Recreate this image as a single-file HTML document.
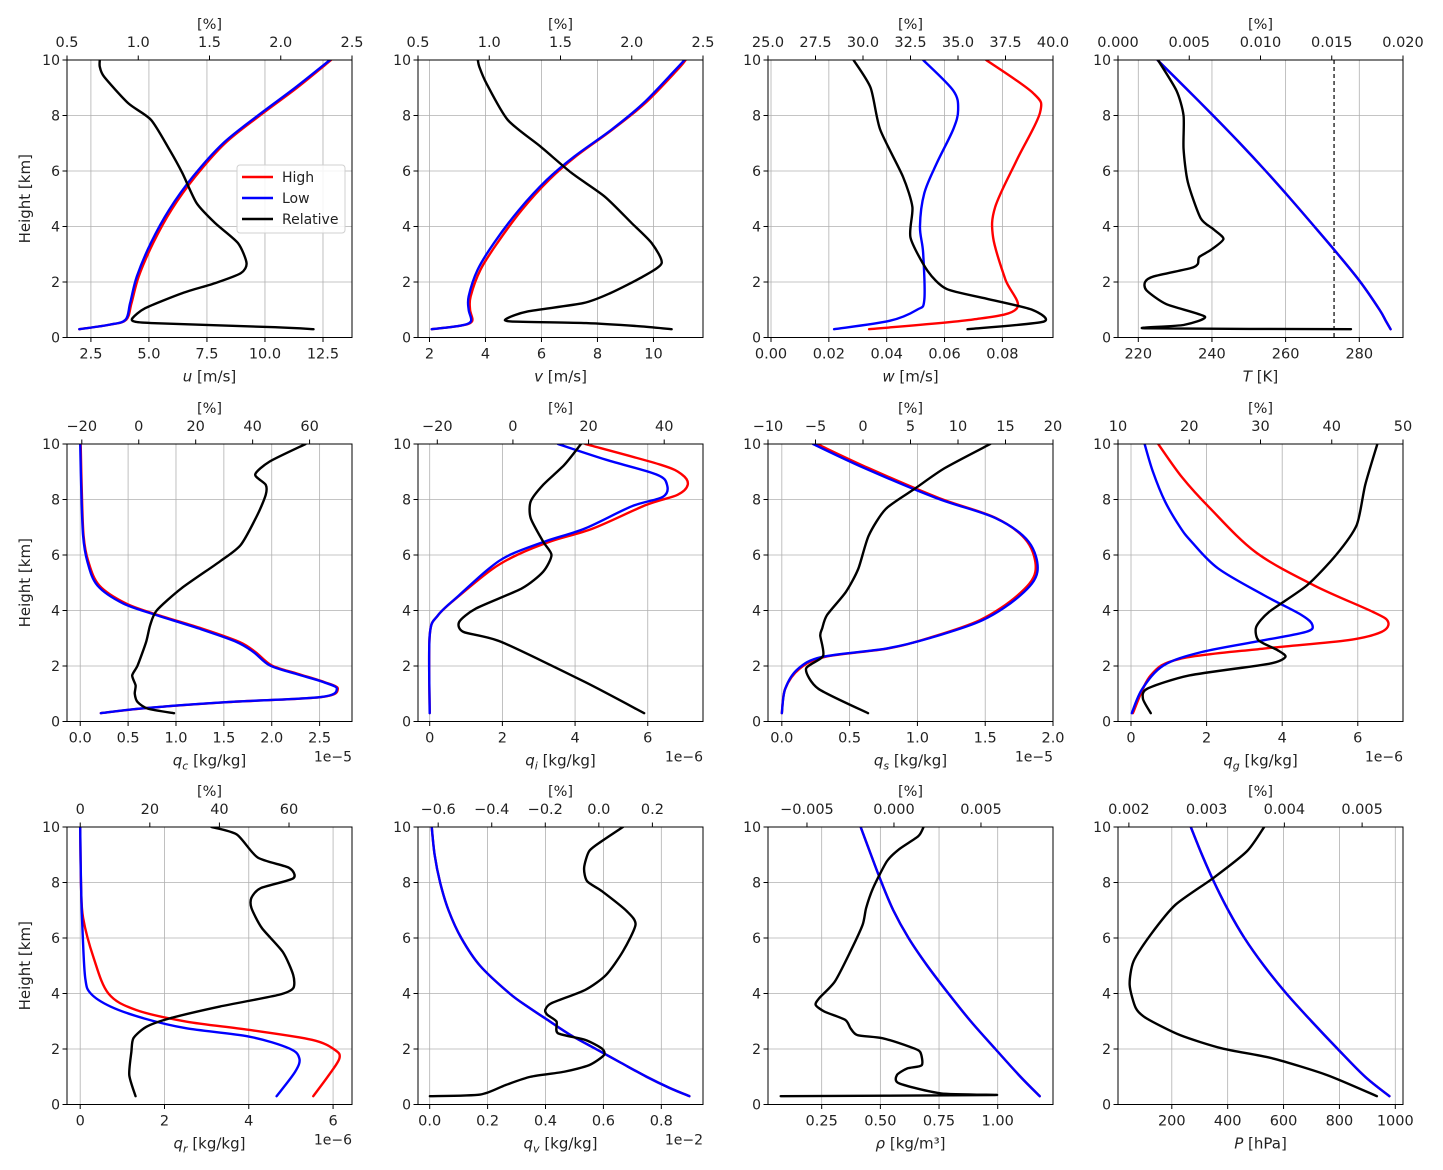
<!DOCTYPE html>
<html><head><meta charset="utf-8">
<style>
html,body{margin:0;padding:0;background:#fff;}
svg{display:block;font-family:"DejaVu Sans","Liberation Sans",sans-serif;}
</style></head>
<body>
<svg id="fig" width="1443" height="1170" viewBox="0 0 1443 1170" xmlns="http://www.w3.org/2000/svg"></svg>
<script>
// ---------- data (km heights, values) ----------
const uHighH=[0.3,0.46,0.64,1.24,2.2,3.4,4.6,5.8,7.0,8.0,9.0,10];
const uHigh=[2.0,3.3,4.02,4.25,4.56,5.18,5.97,7.0,8.28,9.78,11.38,12.85];
const uLowH=[0.3,0.46,0.64,1.24,2.2,3.4,4.6,5.8,7.0,8.0,9.0,10];
const uLow=[2.0,3.29,3.99,4.19,4.48,5.08,5.87,6.9,8.2,9.7,11.3,12.8];
const uRelH=[0.3,0.37,0.52,0.58,0.7,1.06,1.6,1.96,2.32,2.68,3.4,4.12,4.84,5.92,6.76,7.84,8.44,9.4,9.76,10];
const uRel=[2.23,1.96,1.09,0.97,0.96,1.05,1.31,1.54,1.72,1.76,1.7,1.54,1.41,1.31,1.22,1.09,0.93,0.76,0.73,0.73];

const vHighH=[0.3,0.42,0.58,1.0,1.48,2.44,3.4,4.6,5.68,6.52,7.48,8.44,9.64,10];
const vHigh=[2.08,3.08,3.52,3.45,3.47,3.82,4.42,5.3,6.27,7.22,8.52,9.7,10.85,11.15];
const vLowH=[0.3,0.42,0.58,1.0,1.48,2.44,3.4,4.6,5.68,6.52,7.48,8.44,9.64,10];
const vLow=[2.08,3.07,3.48,3.4,3.4,3.72,4.3,5.2,6.19,7.17,8.49,9.64,10.78,11.11];
const vRelH=[0.3,0.4,0.52,0.58,0.7,0.94,1.24,1.6,2.2,2.68,3.4,4.12,5.08,5.92,6.88,7.84,9.16,9.76,10];
const vRel=[2.28,2.07,1.68,1.15,1.13,1.27,1.66,1.85,2.08,2.21,2.14,2.0,1.81,1.58,1.36,1.13,0.98,0.93,0.92];

const wHighH=[0.3,0.65,1.05,2.1,3.6,4.7,6.4,8.1,8.8,10];
const wHigh=[0.0339,0.07,0.085,0.081,0.0768,0.0775,0.085,0.093,0.0907,0.0744];
const wLowH=[0.3,0.6,1,1.35,3.05,4,5.2,6.3,7.5,8.2,8.9,10];
const wLow=[0.0218,0.041,0.0505,0.053,0.0526,0.0515,0.053,0.0574,0.063,0.0647,0.063,0.0526];
const wRelH=[0.3,0.57,1,1.4,1.75,2.4,3.6,4.7,5.8,7.5,9.0,10];
const wRel=[35.5,39.5,38.9,36.5,34.4,33.4,32.5,32.6,32.1,30.9,30.4,29.5];

const tHighH=[0.3,0.6,1,2,3,4,5,6,7,8,9,10];
const tHigh=[288.5,287.2,285.5,280.3,274.2,267.8,261.3,254.6,247.6,240.3,232.8,225.2];
const tLowH=[0.3,0.6,1,2,3,4,5,6,7,8,9,10];
const tLow=[288.5,287.2,285.5,280.3,274.2,267.8,261.3,254.6,247.6,240.3,232.8,225.2];
const tRelH=[0.3,0.33,0.45,0.75,1.2,1.7,2,2.2,2.5,2.65,2.9,3.15,3.55,3.9,4.3,5.6,6.8,8,8.9,10];
const tRel=[0.01635,0.002,0.0046,0.0061,0.0034,0.002,0.0019,0.0025,0.0051,0.0056,0.0057,0.0065,0.0074,0.0067,0.0058,0.0049,0.0046,0.0046,0.0041,0.0028];
const freezingK=[273.15];

const qcHighH=[0.3,0.48,0.7,0.88,1.18,1.42,1.72,2.02,2.5,2.87,3.35,3.83,4.25,4.9,5.76,6.7,8.5,10];
const qcHigh=[0.215,0.68,1.55,2.52,2.69,2.55,2.27,2.0,1.83,1.66,1.27,0.82,0.48,0.2,0.085,0.035,0.015,0.005];
const qcLowH=[0.3,0.48,0.7,0.88,1.18,1.42,1.72,2.02,2.5,2.87,3.35,3.83,4.25,4.9,5.76,6.7,8.5,10];
const qcLow=[0.215,0.67,1.54,2.51,2.68,2.54,2.25,1.98,1.81,1.63,1.24,0.8,0.45,0.18,0.075,0.03,0.01,0.0];
const qcRelH=[0.3,0.46,0.7,1,1.3,1.66,2.02,2.87,3.47,4.0,4.8,5.76,6.36,7.45,8.17,8.53,8.9,9.37,10];
const qcRel=[12.4,3.3,-0.4,-1.4,-1.1,-2.3,-0.4,2.6,4,6.3,15,28.4,35.8,41.7,44.6,44.6,40.9,46,58.6];

const qiHighH=[0.3,3.1,3.83,4.55,5.5,6.0,6.5,6.96,7.8,8.17,8.53,8.9,9.25,10];
const qiHigh=[0,0,0.23,0.83,1.73,2.4,3.35,4.5,5.95,6.82,7.1,6.94,6.36,4.28];
const qiLowH=[0.3,3.1,3.83,4.55,5.5,6.0,6.5,6.96,7.75,8.1,8.53,8.9,9.43,10];
const qiLow=[0,0,0.23,0.81,1.62,2.2,3.2,4.28,5.55,6.42,6.53,6.24,4.86,3.53];
const qiRelH=[0.3,1.42,2.87,3.23,3.59,4.07,4.8,5.4,6,6.48,7.33,7.93,8.53,9.25,10];
const qiRel=[34.7,19.1,-3.1,-13.1,-14.2,-9.8,2.4,8,10.2,8,4.7,4.7,8,13.6,18];

const qsHighH=[0.3,1.18,1.9,2.33,2.63,2.99,3.65,4.55,5.4,6.48,7.33,8.05,9.13,10];
const qsHigh=[0,0.025,0.13,0.32,0.78,1.07,1.46,1.74,1.87,1.81,1.58,1.16,0.64,0.26];
const qsLowH=[0.3,1.18,1.9,2.33,2.63,2.99,3.65,4.55,5.4,6.48,7.33,8.05,9.13,10];
const qsLow=[0,0.025,0.12,0.3,0.77,1.08,1.48,1.76,1.885,1.82,1.575,1.14,0.61,0.23];
const qsRelH=[0.3,1.18,1.9,2.36,3.1,3.35,3.83,4.67,5.5,6.7,7.66,8.4,9.13,10];
const qsRel=[0.53,-4.7,-6.0,-4.2,-4.5,-4.3,-3.8,-1.8,-0.5,0.6,2.4,5.5,8.6,13.4];

const qgHighH=[0.3,1.66,2.26,2.63,2.93,3.23,3.6,3.95,4.9,6.1,7.7,8.8,10];
const qgHigh=[0.05,0.52,1.3,3.52,5.74,6.63,6.8,6.4,4.85,3.3,2.08,1.35,0.72];
const qgLowH=[0.3,1.18,2.02,2.5,2.93,3.23,3.47,3.83,4.55,5.52,6.48,7.0,7.93,9,10];
const qgLow=[0.02,0.3,0.86,1.86,3.52,4.63,4.8,4.52,3.52,2.3,1.6,1.3,0.9,0.58,0.36];
const qgRelH=[0.3,0.82,1.18,1.66,2.08,2.33,2.57,2.93,3.41,3.95,4.9,6,7.08,8.53,10];
const qgRel=[14.6,13.5,14.1,20,31.2,33.5,32.4,29.7,29.4,31.2,36.5,40.6,43.5,44.7,46.4];

const qrHighH=[0.3,1.06,1.66,1.96,2.33,2.69,2.99,3.41,4.0,5.28,6.72,7.9,10];
const qrHigh=[5.53,5.9,6.15,6.05,5.5,4.0,2.51,1.32,0.67,0.32,0.07,0.02,0];
const qrLowH=[0.3,1.18,1.66,2.02,2.45,2.75,3.1,3.53,4.0,4.55,6.1,7.9,10];
const qrLow=[4.66,5.1,5.2,4.96,4.0,2.51,1.52,0.72,0.25,0.12,0.06,0.02,0];
const qrRelH=[0.3,1.06,1.9,2.39,2.8,3.1,3.53,3.95,4.19,4.67,5.5,6.36,7.08,7.45,7.8,8.15,8.53,8.9,9.73,10];
const qrRel=[15.9,14.1,14.7,15.3,19,25.6,40.1,57,61.2,61.2,58.2,52.2,49.2,49.2,51.9,61.2,60,51,45,37.7];

const qvHighH=[0.3,0.6,1,1.5,2,2.5,3,3.5,4,5,6,7,8,9,10];
const qvHigh=[0.897,0.828,0.749,0.661,0.574,0.487,0.414,0.342,0.276,0.174,0.109,0.065,0.036,0.017,0.007];
const qvLowH=[0.3,0.6,1,1.5,2,2.5,3,3.5,4,5,6,7,8,9,10];
const qvLow=[0.897,0.828,0.749,0.661,0.574,0.487,0.414,0.342,0.276,0.174,0.109,0.065,0.036,0.017,0.007];
const qvRelH=[0.3,0.36,0.7,1,1.18,1.42,1.78,2.02,2.33,2.57,2.99,3.23,3.41,3.65,4.13,4.67,5.52,6.48,6.96,7.69,8.05,8.53,9.13,9.49,10];
const qvRel=[-0.631,-0.443,-0.349,-0.255,-0.13,-0.036,0.019,0.011,-0.051,-0.153,-0.158,-0.192,-0.2,-0.177,-0.051,0.027,0.09,0.137,0.105,0.011,-0.044,-0.055,-0.036,0.011,0.09];

const rhoHighH=[0.3,1,2,3,4,5,6,7,8,9,10];
const rhoHigh=[1.179,1.097,0.99,0.885,0.79,0.70,0.62,0.555,0.505,0.46,0.416];
const rhoLowH=[0.3,1,2,3,4,5,6,7,8,9,10];
const rhoLow=[1.179,1.097,0.99,0.885,0.79,0.70,0.62,0.555,0.505,0.46,0.416];
const rhoRelH=[0.3,0.34,0.4,0.76,1.06,1.3,1.42,1.9,2.08,2.39,2.5,2.75,3.05,3.35,3.59,3.83,4.43,5.52,6.48,7.08,7.8,8.77,9.2,9.67,10];
const rhoRel=[-0.00651,0.00571,0.0027,0.0003,0.00017,0.00077,0.0016,0.0015,0.0009,-0.00067,-0.0021,-0.0025,-0.0028,-0.004,-0.0045,-0.0043,-0.0034,-0.0025,-0.0018,-0.0016,-0.0012,-0.0004,0.0003,0.0014,0.0017];

const pHighH=[0.3,1,2,3,4,5,6,7,8,9,10];
const pHigh=[979,892,794,700,610,530,460,402,352,308,268];
const pLowH=[0.3,1,2,3,4,5,6,7,8,9,10];
const pLow=[979,892,794,700,610,530,460,402,352,308,268];
const pRelH=[0.3,1.06,1.66,2.02,2.5,3.1,3.47,4.31,5.16,6.12,7.2,8.17,9.13,10];
const pRel=[0.00519,0.00455,0.00385,0.0032,0.00266,0.00223,0.00209,0.00201,0.00206,0.00228,0.0026,0.00309,0.00352,0.00374];

// tick values and labels
const heightTicks=[0,2,4,6,8,10];
const heightTickLabels=["0","2","4","6","8","10"];
const uTicks=[2.5,5,7.5,10,12.5]; const uTickLabels=["2.5","5.0","7.5","10.0","12.5"];
const pctTicksUV=[0.5,1,1.5,2,2.5]; const pctLabelsUV=["0.5","1.0","1.5","2.0","2.5"];
const vTicks=[2,4,6,8,10]; const vTickLabels=["2","4","6","8","10"];
const wTicks=[0,0.02,0.04,0.06,0.08]; const wTickLabels=["0.00","0.02","0.04","0.06","0.08"];
const wPctTicks=[25,27.5,30,32.5,35,37.5,40]; const wPctLabels=["25.0","27.5","30.0","32.5","35.0","37.5","40.0"];
const tTicks=[220,240,260,280]; const tTickLabels=["220","240","260","280"];
const tPctTicks=[0,0.005,0.01,0.015,0.02]; const tPctLabels=["0.000","0.005","0.010","0.015","0.020"];
const qcTicks=[0,0.5,1,1.5,2,2.5]; const qcTickLabels=["0.0","0.5","1.0","1.5","2.0","2.5"];
const qcPctTicks=[-20,0,20,40,60]; const qcPctLabels=["\u221220","0","20","40","60"];
const qiTicks=[0,2,4,6]; const qiTickLabels=["0","2","4","6"];
const qiPctTicks=[-20,0,20,40]; const qiPctLabels=["\u221220","0","20","40"];
const qsTicks=[0,0.5,1,1.5,2]; const qsTickLabels=["0.0","0.5","1.0","1.5","2.0"];
const qsPctTicks=[-10,-5,0,5,10,15,20]; const qsPctLabels=["\u221210","\u22125","0","5","10","15","20"];
const qgTicks=[0,2,4,6]; const qgTickLabels=["0","2","4","6"];
const qgPctTicks=[10,20,30,40,50]; const qgPctLabels=["10","20","30","40","50"];
const qrTicks=[0,2,4,6]; const qrTickLabels=["0","2","4","6"];
const qrPctTicks=[0,20,40,60]; const qrPctLabels=["0","20","40","60"];
const qvTicks=[0,0.2,0.4,0.6,0.8]; const qvTickLabels=["0.0","0.2","0.4","0.6","0.8"];
const qvPctTicks=[-0.6,-0.4,-0.2,0,0.2]; const qvPctLabels=["\u22120.6","\u22120.4","\u22120.2","0.0","0.2"];
const rhoTicks=[0.25,0.5,0.75,1.0]; const rhoTickLabels=["0.25","0.50","0.75","1.00"];
const rhoPctTicks=[-0.005,0,0.005]; const rhoPctLabels=["\u22120.005","0.000","0.005"];
const pTicks=[200,400,600,800,1000]; const pTickLabels=["200","400","600","800","1000"];
const pPctTicks=[0.002,0.003,0.004,0.005]; const pPctLabels=["0.002","0.003","0.004","0.005"];

const NS="http://www.w3.org/2000/svg";
const svg=document.getElementById('fig');
function mk(tag,attrs,parent){const e=document.createElementNS(NS,tag);for(const k in attrs)e.setAttribute(k,attrs[k]);(parent||svg).appendChild(e);return e;}

const colL=[67,418,768,1118], rowT=[60,444,827], PW=285, PH=277.5;

const panels=[
 {key:'u',r:0,c:0,xd:[1.47,13.75],td:[0.5,2.5],xt:uTicks,xl:uTickLabels,tt:pctTicksUV,tl:pctLabelsUV,hi:[uHighH,uHigh],lo:[uLowH,uLow],rel:[uRelH,uRel],lab:['u','',' [m/s]'],legend:true},
 {key:'v',r:0,c:1,xd:[1.59,11.77],td:[0.5,2.5],xt:vTicks,xl:vTickLabels,tt:pctTicksUV,tl:pctLabelsUV,hi:[vHighH,vHigh],lo:[vLowH,vLow],rel:[vRelH,vRel],lab:['v','',' [m/s]']},
 {key:'w',r:0,c:2,xd:[-0.00104,0.0975],td:[25,40],xt:wTicks,xl:wTickLabels,tt:wPctTicks,tl:wPctLabels,hi:[wHighH,wHigh],lo:[wLowH,wLow],rel:[wRelH,wRel],lab:['w','',' [m/s]']},
 {key:'t',r:0,c:3,xd:[214.49,291.87],td:[0,0.02],xt:tTicks,xl:tTickLabels,tt:tPctTicks,tl:tPctLabels,hi:[tHighH,tHigh],lo:[tLowH,tLow],rel:[tRelH,tRel],lab:['T','',' [K]'],vline:freezingK},
 {key:'qc',r:1,c:0,xd:[-0.138,2.838],td:[-25.2,74.9],xt:qcTicks,xl:qcTickLabels,tt:qcPctTicks,tl:qcPctLabels,hi:[qcHighH,qcHigh],lo:[qcLowH,qcLow],rel:[qcRelH,qcRel],lab:['q','c',' [kg/kg]'],off:'1e\u22125'},
 {key:'qi',r:1,c:1,xd:[-0.322,7.52],td:[-25.1,50.26],xt:qiTicks,xl:qiTickLabels,tt:qiPctTicks,tl:qiPctLabels,hi:[qiHighH,qiHigh],lo:[qiLowH,qiLow],rel:[qiRelH,qiRel],lab:['q','i',' [kg/kg]'],off:'1e\u22126'},
 {key:'qs',r:1,c:2,xd:[-0.102,2.0],td:[-10,20],xt:qsTicks,xl:qsTickLabels,tt:qsPctTicks,tl:qsPctLabels,hi:[qsHighH,qsHigh],lo:[qsLowH,qsLow],rel:[qsRelH,qsRel],lab:['q','s',' [kg/kg]'],off:'1e\u22125'},
 {key:'qg',r:1,c:3,xd:[-0.344,7.196],td:[10,50],xt:qgTicks,xl:qgTickLabels,tt:qgPctTicks,tl:qgPctLabels,hi:[qgHighH,qgHigh],lo:[qgLowH,qgLow],rel:[qgRelH,qgRel],lab:['q','g',' [kg/kg]'],off:'1e\u22126'},
 {key:'qr',r:2,c:0,xd:[-0.313,6.449],td:[-3.8,78.1],xt:qrTicks,xl:qrTickLabels,tt:qrPctTicks,tl:qrPctLabels,hi:[qrHighH,qrHigh],lo:[qrLowH,qrLow],rel:[qrRelH,qrRel],lab:['q','r',' [kg/kg]'],off:'1e\u22126'},
 {key:'qv',r:2,c:1,xd:[-0.0404,0.944],td:[-0.6754,0.389],xt:qvTicks,xl:qvTickLabels,tt:qvPctTicks,tl:qvPctLabels,hi:[qvHighH,qvHigh],lo:[qvLowH,qvLow],rel:[qvRelH,qvRel],lab:['q','v',' [kg/kg]'],off:'1e\u22122'},
 {key:'rho',r:2,c:2,xd:[0.0212,1.2356],td:[-0.00724,0.00914],xt:rhoTicks,xl:rhoTickLabels,tt:rhoPctTicks,tl:rhoPctLabels,hi:[rhoHighH,rhoHigh],lo:[rhoLowH,rhoLow],rel:[rhoRelH,rhoRel],lab:['\u03c1','',' [kg/m\u00b3]']},
 {key:'p',r:2,c:3,xd:[7.4,1027.6],td:[0.00186,0.005526],xt:pTicks,xl:pTickLabels,tt:pPctTicks,tl:pPctLabels,hi:[pHighH,pHigh],lo:[pLowH,pLow],rel:[pRelH,pRel],lab:['P','',' [hPa]']}
];

function pathFrom(pts,t){
  if(pts.length<2)return '';
  let d='M'+pts[0][0].toFixed(2)+','+pts[0][1].toFixed(2);
  for(let i=0;i<pts.length-1;i++){
    const p0=pts[Math.max(0,i-1)],p1=pts[i],p2=pts[i+1],p3=pts[Math.min(pts.length-1,i+2)];
    const c1=[p1[0]+(p2[0]-p0[0])*t,p1[1]+(p2[1]-p0[1])*t];
    const c2=[p2[0]-(p3[0]-p1[0])*t,p2[1]-(p3[1]-p1[1])*t];
    d+=' C'+c1[0].toFixed(2)+','+c1[1].toFixed(2)+' '+c2[0].toFixed(2)+','+c2[1].toFixed(2)+' '+p2[0].toFixed(2)+','+p2[1].toFixed(2);
  }
  return d;
}

panels.forEach(P=>{
  const L=colL[P.c],T=rowT[P.r],B=T+PH,R=L+PW;
  const xs=v=>L+(v-P.xd[0])/(P.xd[1]-P.xd[0])*PW;
  const ts=v=>L+(v-P.td[0])/(P.td[1]-P.td[0])*PW;
  const ys=h=>B-h/10*PH;
  const g=mk('g',{});
  
  
  P.xt.forEach(v=>{const l=mk('line',{x1:xs(v),x2:xs(v),y1:T,y2:B,stroke:'#b0b0b0','stroke-width':0.8},g);
    
    });
  heightTicks.forEach(h=>{const l=mk('line',{x1:L,x2:R,y1:ys(h),y2:ys(h),stroke:'#b0b0b0','stroke-width':0.8},g);
    
    });
  if(P.vline){P.vline.forEach(v=>{const l=mk('line',{x1:xs(v),x2:xs(v),y1:T,y2:B,stroke:'#000','stroke-width':1.2,'stroke-dasharray':'4,3'},g);
    
    });}
  const clip=mk('clipPath',{id:'clip-'+P.key},g);mk('rect',{x:L,y:T,width:PW,height:PH},clip);
  const series=[[P.hi,'#ff0000','high',xs,0.16],[P.lo,'#0000ff','low',xs,0.16],[P.rel,'#000000','relative',ts,0.12]];
  series.forEach(s=>{
    const hs=s[0][0],vs=s[0][1],sc=s[3];
    const pts=vs.map((v,i)=>[sc(v),ys(hs[i])]);
    const p=mk('path',{d:pathFrom(pts,s[4]),fill:'none',stroke:s[1],'stroke-width':2.4,'stroke-linejoin':'round','stroke-linecap':'round','clip-path':'url(#clip-'+P.key+')'},g);
    
    
  });
  const fr=mk('rect',{x:L,y:T,width:PW,height:PH,fill:'none',stroke:'#000','stroke-width':1},g);
  
  
  P.xt.forEach((v,i)=>{mk('line',{x1:xs(v),x2:xs(v),y1:B,y2:B+4.5,stroke:'#000','stroke-width':1},g);
    const t=mk('text',{x:xs(v),y:B+21,'font-size':14.5,'text-anchor':'middle',fill:'#222'},g);t.textContent=P.xl[i];
    
    });
  P.tt.forEach((v,i)=>{mk('line',{x1:ts(v),x2:ts(v),y1:T,y2:T-4.5,stroke:'#000','stroke-width':1},g);
    const t=mk('text',{x:ts(v),y:T-13,'font-size':14.5,'text-anchor':'middle',fill:'#222'},g);t.textContent=P.tl[i];
    
    });
  heightTicks.forEach((h,i)=>{mk('line',{x1:L,x2:L-4.5,y1:ys(h),y2:ys(h),stroke:'#000','stroke-width':1},g);
    const t=mk('text',{x:L-7,y:ys(h)+5,'font-size':14,'text-anchor':'end',fill:'#222'},g);t.textContent=heightTickLabels[i];
    
    });
  const pc=mk('text',{x:L+PW/2,y:T-31,'font-size':14.5,'text-anchor':'middle',fill:'#222'},g);pc.textContent='[%]';
  
  
  const xl=mk('text',{x:L+PW/2,y:B+44,'font-size':15,'text-anchor':'middle',fill:'#222'},g);
  
  
  const a=document.createElementNS(NS,'tspan');a.setAttribute('font-style','italic');a.textContent=P.lab[0];xl.appendChild(a);
  if(P.lab[1]){const b=document.createElementNS(NS,'tspan');b.setAttribute('font-style','italic');b.setAttribute('font-size','11');b.setAttribute('dy','4');b.textContent=P.lab[1];xl.appendChild(b);
    const c=document.createElementNS(NS,'tspan');c.setAttribute('dy','-4');c.textContent=P.lab[2];xl.appendChild(c);}
  else{const c=document.createElementNS(NS,'tspan');c.textContent=P.lab[2];xl.appendChild(c);}
  if(P.off){const o=mk('text',{x:R,y:B+40,'font-size':14,'text-anchor':'end',fill:'#222'},g);o.textContent=P.off;
    
    }
  if(P.c===0){const yl=mk('text',{x:0,y:0,'font-size':15,'text-anchor':'middle',fill:'#222',transform:'translate('+(L-37)+','+(T+PH/2)+') rotate(-90)'},g);yl.textContent='Height [km]';
    
    }
  if(P.legend){
    const lg=mk('g',{},g);
    
    
    mk('rect',{x:237,y:165,width:108,height:68,rx:3,fill:'#fff','fill-opacity':0.85,stroke:'#d0d0d0','stroke-width':1},lg);
    [['High','#ff0000',177],['Low','#0000ff',198],['Relative','#000000',219]].forEach(e=>{
      const eg=mk('g',{},lg);
      
      
      mk('line',{x1:242,x2:273,y1:e[2],y2:e[2],stroke:e[1],'stroke-width':2.4},eg);
      const t=mk('text',{x:282,y:e[2]+5,'font-size':14,fill:'#222'},eg);t.textContent=e[0];
    });
  }
});
</script>
</body></html>
